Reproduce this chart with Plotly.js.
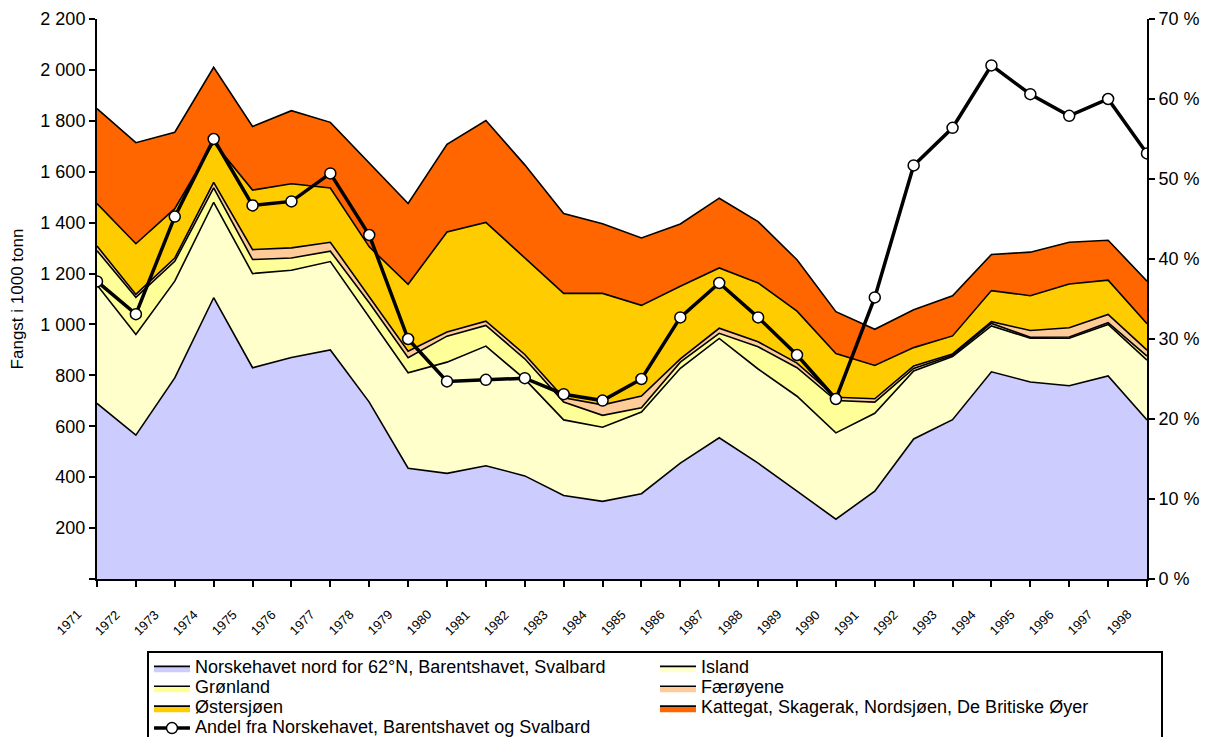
<!DOCTYPE html>
<html><head><meta charset="utf-8">
<script src="https://cdn.plot.ly/plotly-3.0.1.min.js"></script>
<style>html,body{margin:0;padding:0;background:#fff}#chart{width:1209px;height:737px}</style>
</head><body><div id="chart"></div>
<script>
const years = [1971,1972,1973,1974,1975,1976,1977,1978,1979,1980,1981,1982,1983,1984,1985,1986,1987,1988,1989,1990,1991,1992,1993,1994,1995,1996,1997,1998];
const yearLabels = ['1971','1972','1973','1974','1975','1976','1977','1978','1979','1980','1981','1982','1983','1984','1985','1986','1987','1988','1989','1990','1991','1992','1993','1994','1995','1996','1997','1998'];

const norskehavet = [690,565,790,1105,830,870,900,695,435,415,445,405,328,305,335,455,555,455,345,235,345,550,626,814,774,759,798,625];
const island      = [465,396,380,375,370,343,347,335,375,437,470,380,297,291,321,373,390,370,373,339,306,267,248,180,172,187,202,235];
const gronland    = [135,146,78,57,55,48,41,55,59,102,81,80,70,47,17,24,20,87,112,127,44,10,5,10,4,5,7,16];
const faeroyene   = [18,11,13,21,39,40,35,25,26,16,17,17,17,41,46,13,20,20,18,13,13,10,5,7,26,36,32,23];
const ostersjoen  = [167,199,194,157,234,252,213,195,263,393,388,380,410,438,356,285,237,231,204,172,131,72,71,122,137,172,135,104];
const kattegat    = [373,397,300,295,250,287,258,330,317,345,400,365,314,274,265,245,274,241,202,164,142,149,158,142,171,164,157,167];
const andel       = [37.2,33.1,45.3,55.0,46.7,47.2,50.7,43.0,30.0,24.7,24.9,25.1,23.1,22.3,25.0,32.7,37.0,32.7,28.0,22.5,35.2,51.7,56.4,64.2,60.6,57.9,60.0,53.2];

const leftTicks = [0,200,400,600,800,1000,1200,1400,1600,1800,2000,2200];
const leftTickText = ['','200','400','600','800','1 000','1 200','1 400','1 600','1 800','2 000','2 200'];
const rightTicks = [0,10,20,30,40,50,60,70];
const rightTickText = ['0 %','10 %','20 %','30 %','40 %','50 %','60 %','70 %'];

const names = ['Norskehavet nord for 62°N, Barentshavet, Svalbard','Island','Grønland','Færøyene','Østersjøen','Kattegat, Skagerak, Nordsjøen, De Britiske Øyer'];
const lineName = 'Andel fra Norskehavet, Barentshavet og Svalbard';
const series = [norskehavet, island, gronland, faeroyene, ostersjoen, kattegat];
const colors = ['#CCCCFF','#FFFFCC','#FFFF99','#FFCC99','#FFCC00','#FF6600'];

const big = t => '<span style="font-size:18px">' + t + '</span>';

const traces = series.map((s,i) => ({
  type:'scatter', mode:'lines', x: years, y: s, name: big(names[i]),
  stackgroup:'one', fill: i===0 ? 'tozeroy' : 'tonexty',
  fillcolor: colors[i], line:{color:'#000', width:1.6},
  hoverinfo:'skip'
}));
traces.push({
  type:'scatter', mode:'lines+markers', x: years, y: andel, yaxis:'y2',
  name: big(lineName),
  line:{color:'#000', width:3.5},
  marker:{symbol:'circle', size:11, color:'#fff', line:{color:'#000', width:1.5}},
  hoverinfo:'skip'
});

const fontFam = 'Liberation Sans, Arial, sans-serif';
const yearAnn = years.map((yr,i) => ({
  xref:'x', yref:'paper', x: yr, xshift:-28, y: -0.0784,
  text: yearLabels[i], textangle:-45, showarrow:false,
  xanchor:'center', yanchor:'middle',
  font:{family:fontFam, size:13, color:'#000'}
}));

const layout = {
  width:1209, height:737,
  margin:{l:97, r:62, t:19, b:158, autoexpand:false},
  paper_bgcolor:'#fff', plot_bgcolor:'#fff',
  font:{family:fontFam, size:18, color:'#000'},
  showlegend:true,
  annotations: yearAnn,
  xaxis:{range:[1971,1998], tickvals: years, showticklabels:false, ticks:'outside', ticklen:6, tickwidth:2, tickcolor:'#000',
         showline:true, linecolor:'#000', linewidth:2, showgrid:false, zeroline:false, fixedrange:true},
  yaxis:{range:[0,2200], tickvals:leftTicks, ticktext:leftTickText, ticks:'outside', ticklen:6, tickwidth:2, tickcolor:'#000',
         showline:true, linecolor:'#000', linewidth:2, showgrid:false, zeroline:false,
         tickfont:{family:fontFam, size:18, color:'#000'},
         title:{text:'Fangst i 1000 tonn', font:{family:fontFam, size:17, color:'#000'}, standoff:12}},
  yaxis2:{overlaying:'y', side:'right', anchor:'x', range:[0,70], tickvals:rightTicks, ticktext:rightTickText,
          ticks:'outside', ticklen:6, tickwidth:2, tickcolor:'#000',
          showline:true, linecolor:'#000', linewidth:2, showgrid:false, zeroline:false,
          tickfont:{family:fontFam, size:18, color:'#000'}},
  legend:{orientation:'h', x:0.0476, xanchor:'left', y:-0.1293, yanchor:'top',
          entrywidth:455, entrywidthmode:'pixels', traceorder:'normal', itemwidth:36,
          bordercolor:'#000', borderwidth:2, bgcolor:'#fff',
          font:{family:fontFam, size:13, color:'#000'}}
};
Plotly.newPlot('chart', traces, layout, {displayModeBar:false, staticPlot:true});
</script></body></html>
